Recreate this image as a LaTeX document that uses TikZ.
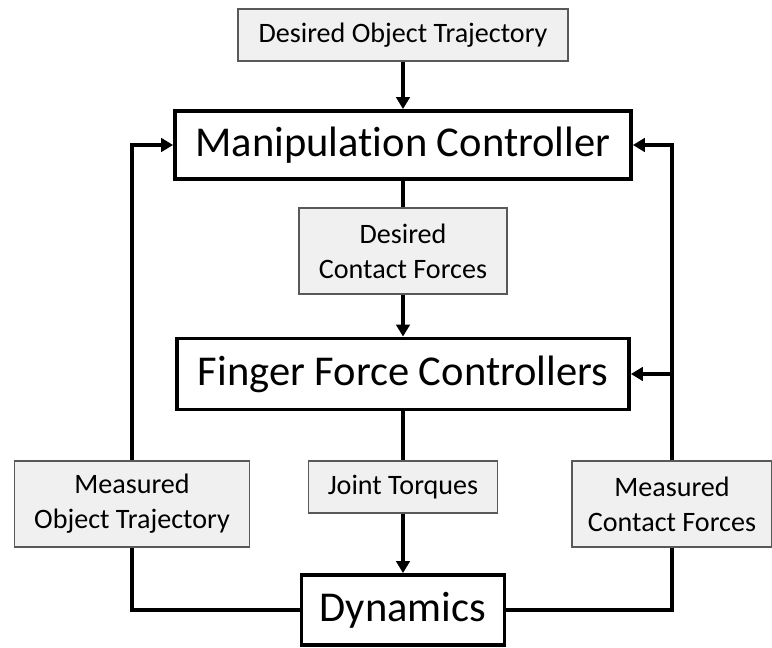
\documentclass[tikz,border=0pt]{standalone}
\usepackage{fontspec}
\setmainfont{Carlito}[Ligatures=NoCommon]
\usetikzlibrary{arrows.meta}

\begin{document}
\begin{tikzpicture}[x=0.02cm, y=-0.02cm,
    signal/.style={draw=black!65, line width=0.8pt, fill=black!6, align=center,
        inner sep=0pt, font=\fontsize{16}{20}\selectfont},
    block/.style={draw, line width=2.2pt, fill=white, inner sep=0pt,
        font=\fontsize{24.2}{28}\selectfont},
    wire/.style={line width=2.2pt},
    flow/.style={wire, -{Triangle[length=0.24cm,width=0.27cm]}}]

        % Page
        \useasboundingbox (0,0) rectangle (772,648);

        % Forward path
        \node[signal, minimum width=6.6cm, minimum height=1.04cm] (desobj) at (403,35) {Desired Object Trajectory};
        \node[block, minimum width=9.12cm, minimum height=1.36cm] (manip) at (403,145) {Manipulation Controller};
        \node[signal, minimum width=4.16cm, minimum height=1.72cm] (desforce) at (403,251) {Desired\\Contact Forces};
        \node[block, minimum width=9.04cm, minimum height=1.42cm] (finger) at (403,374) {Finger Force Controllers};
        \node[signal, minimum width=3.78cm, minimum height=1.04cm] (torque) at (403,487) {Joint Torques};
        \node[block, minimum width=4.06cm, minimum height=1.40cm] (dyn) at (403,610) {Dynamics};

        % Feedback signals
        \node[signal, minimum width=4.7cm, minimum height=1.72cm] (measobj) at (132,504) {Measured\\Object Trajectory};
        \node[signal, minimum width=4.0cm, minimum height=1.72cm] (measforce) at (672,504) {Measured\\Contact Forces};

        % Forward connections
        \draw[flow] (desobj) -- (manip);
        \draw[wire] (manip) -- (desforce);
        \draw[flow] (desforce) -- (finger);
        \draw[wire] (finger) -- (torque);
        \draw[flow] (torque) -- (dyn);

        % Left loop
        \draw[wire] (dyn.west) -| (measobj.south);
        \draw[flow] (measobj.north) |- (manip.west);

        % Right loop (with branch to finger controllers)
        \draw[wire] (dyn.east) -| (measforce.south);
        \draw[flow] (measforce.north) |- (manip.east);
        \coordinate (branch) at (measforce.north |- finger.east);
        \draw[flow] (branch) -- (finger.east);

\end{tikzpicture}
\end{document}
